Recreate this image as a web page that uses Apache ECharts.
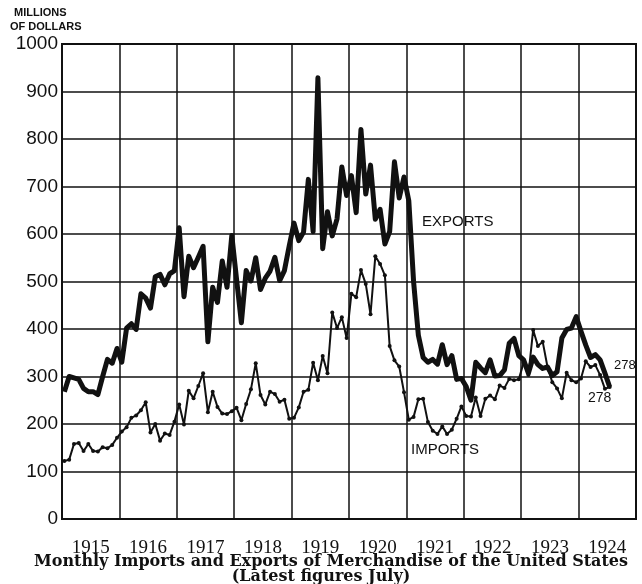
<!DOCTYPE html>
<html lang="en">
<head>
    <meta charset="UTF-8">
    <title>Monthly Imports and Exports of Merchandise</title>
    <script src="https://cdn.jsdelivr.net/npm/echarts@6/dist/echarts.min.js"></script>
    <style>html, body { margin: 0; padding: 0; background: #fff; }</style>
</head>
<body>
    <div id="graph" style="width: 642px; height: 584px;"></div>

    <script>
        // year bands on the bottom axis
        var years = ['1915', '1916', '1917', '1918', '1919', '1920', '1921', '1922', '1923', '1924'];

        // one category per month, Jan 1915 .. Dec 1924
        var months = [];
        for (var i = 0; i < years.length; i++) {
            for (var m = 1; m <= 12; m++) {
                months.push(years[i] + '-' + (m < 10 ? '0' : '') + m);
            }
        }

        // millions of dollars, Jan 1915 .. Jul 1924
        var exportsValues = [
            268, 300, 297, 294, 275, 268, 268, 262, 300, 336, 328, 359,
            330, 402, 411, 399, 474, 465, 444, 510, 515, 493, 516, 523,
            613, 468, 553, 529, 551, 574, 373, 488, 456, 543, 488, 597,
            504, 413, 523, 501, 550, 483, 507, 522, 551, 502, 523, 575,
            623, 586, 604, 715, 605, 929, 569, 647, 596, 632, 741, 681,
            723, 645, 820, 684, 745, 631, 652, 579, 605, 752, 676, 720,
            670, 500, 387, 340, 330, 336, 326, 367, 325, 344, 294, 296,
            279, 250, 330, 318, 308, 335, 301, 302, 314, 370, 380, 344,
            335, 307, 341, 325, 317, 320, 302, 310, 381, 399, 402, 426,
            395, 366, 340, 346, 335, 307, 278
        ];

        var importsValues = [
            122, 125, 158, 160, 143, 158, 143, 142, 151, 149, 156, 171,
            184, 193, 213, 218, 229, 246, 182, 200, 165, 180, 177, 205,
            241, 199, 270, 254, 280, 307, 225, 268, 236, 222, 221, 227,
            234, 208, 242, 273, 328, 261, 241, 268, 263, 247, 251, 211,
            213, 235, 268, 272, 329, 292, 343, 307, 435, 402, 425, 381,
            474, 467, 524, 495, 431, 553, 537, 513, 364, 334, 321, 267,
            209, 215, 252, 253, 204, 186, 179, 195, 179, 188, 211, 237,
            217, 216, 256, 217, 253, 260, 252, 281, 276, 295, 292, 294,
            329, 303, 398, 364, 373, 320, 288, 275, 254, 308, 292, 288,
            296, 332, 320, 324, 303, 274, 278
        ];

        var ink = '#111';
        var myChart = echarts.init(document.getElementById('graph'));

        function label(x, y, text, size, family, weight) {
            return {
                type: 'text', left: x, top: y,
                style: { text: text, fontSize: size, fontFamily: family, fontWeight: weight || 'normal', fill: ink }
            };
        }

        var option = {
            backgroundColor: '#fff',
            animation: false,
            grid: { left: 62, right: 6, top: 44, bottom: 65, show: true, borderColor: ink, borderWidth: 2 },
            xAxis: [
                {
                    type: 'category', data: months, boundaryGap: true, show: false
                },
                {
                    type: 'category', data: years, boundaryGap: true, position: 'bottom',
                    axisLine: { lineStyle: { color: ink, width: 2 } },
                    axisTick: { show: false },
                    splitLine: { show: true, interval: 0, lineStyle: { color: ink, width: 1.5 } },
                    axisLabel: { margin: 20, fontFamily: 'Liberation Serif', fontSize: 19, color: ink, interval: 0 }
                }
            ],
            yAxis: {
                type: 'value', min: 0, max: 1000, interval: 100,
                axisLine: { show: true, lineStyle: { color: ink, width: 2 } },
                axisTick: { show: false },
                splitLine: { lineStyle: { color: ink, width: 1.5 } },
                axisLabel: { margin: 4, fontFamily: 'Liberation Sans', fontSize: 19, color: ink,
                    formatter: function (v) { return String(v); } }
            },
            series: [
                {
                    name: 'Exports', type: 'line', xAxisIndex: 0, data: exportsValues,
                    showSymbol: false, lineStyle: { color: ink, width: 5, join: 'round' }, z: 3
                },
                {
                    name: 'Imports', type: 'line', xAxisIndex: 0, data: importsValues,
                    symbol: 'circle', symbolSize: 4, showAllSymbol: true, itemStyle: { color: ink },
                    lineStyle: { color: ink, width: 2 }, z: 4
                }
            ],
            graphic: [
                label(14, 7, 'MILLIONS', 11, 'Liberation Sans', 'bold'),
                label(10, 21, 'OF DOLLARS', 11, 'Liberation Sans', 'bold'),
                label(34, 554, 'Monthly Imports and Exports of Merchandise of the United States', 16, 'DejaVu Serif', 'bold'),
                label('center', 569, '(Latest figures July)', 16, 'DejaVu Serif', 'bold'),
                label(422, 214, 'EXPORTS', 15, 'Liberation Sans'),
                label(411, 442, 'IMPORTS', 15, 'Liberation Sans'),
                label(614, 359, '278', 13, 'Liberation Sans'),
                label(588, 391, '278', 14, 'Liberation Sans')
            ]
        };
        myChart.setOption(option);
    </script>
</body>
</html>
